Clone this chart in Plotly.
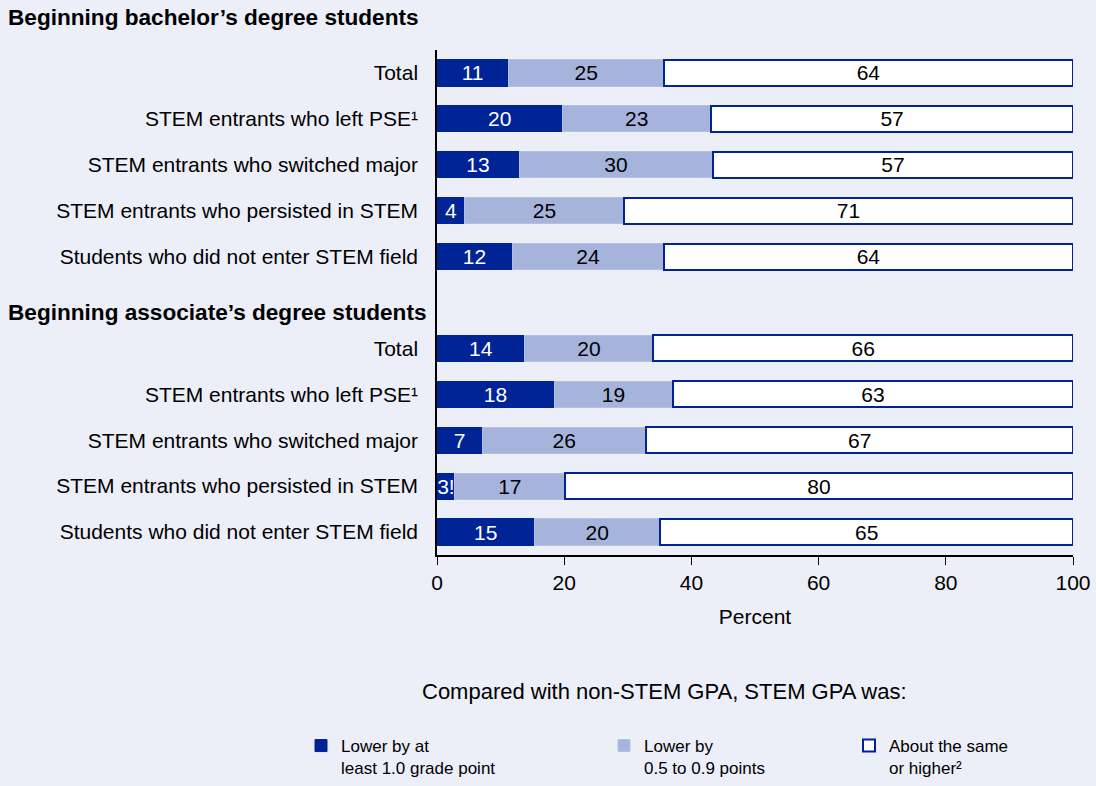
import plotly.graph_objects as go

# Row labels (top to bottom); blank row holds the associate header
row_labels = [
    "Total", "STEM entrants who left PSE¹", "STEM entrants who switched major",
    "STEM entrants who persisted in STEM", "Students who did not enter STEM field",
    "",
    "Total", "STEM entrants who left PSE¹", "STEM entrants who switched major",
    "STEM entrants who persisted in STEM", "Students who did not enter STEM field",
]
row_pos = [0, 1, 2, 3, 4, 6, 7, 8, 9, 10]
bar_labels = [l for l in row_labels if l != ""]

lower_1 = [11.2, 19.7, 12.9, 4.4, 11.8, 13.8, 18.4, 7.1, 2.8, 15.3]
lower_05 = [24.5, 23.4, 30.5, 25.0, 23.9, 20.2, 18.7, 25.8, 17.3, 19.8]
same_higher = [64.3, 56.9, 56.6, 70.6, 64.3, 66.0, 62.9, 67.1, 79.9, 64.9]

lower_1_txt = ["11", "20", "13", "4", "12", "14", "18", "7", "3!", "15"]
lower_05_txt = ["25", "23", "30", "25", "24", "20", "19", "26", "17", "20"]
same_higher_txt = ["64", "57", "57", "71", "64", "66", "63", "67", "80", "65"]

x_ticks = [0, 20, 40, 60, 80, 100]

DARK = "#002395"
LIGHT = "#A6B4DC"
BG = "#ECEEF8"
FONT = "Liberation Sans, Arial, sans-serif"

fig = go.Figure()
fig.add_trace(go.Bar(
    y=row_pos, x=lower_1, orientation="h", name="Lower by at<br>least 1.0 grade point",
    marker=dict(color=DARK, line=dict(color=DARK, width=1)),
    text=lower_1_txt, textposition="inside", insidetextanchor="middle",
    textfont=dict(color="white", size=21, family=FONT), constraintext="none",
    textangle=0, width=0.57, legend="legend", hoverinfo="skip",
))
fig.add_trace(go.Bar(
    y=row_pos, x=lower_05, orientation="h", name="Lower by<br>0.5 to 0.9 points",
    marker=dict(color=LIGHT, line=dict(color="#B3C0E4", width=1)),
    text=lower_05_txt, textposition="inside", insidetextanchor="middle",
    textfont=dict(color="black", size=21, family=FONT), constraintext="none",
    textangle=0, width=0.57, legend="legend2", hoverinfo="skip",
))
fig.add_trace(go.Bar(
    y=row_pos, x=same_higher, orientation="h", name="About the same<br>or higher²",
    marker=dict(color="white", line=dict(color=DARK, width=2)),
    text=same_higher_txt, textposition="inside", insidetextanchor="middle",
    textfont=dict(color="black", size=21, family=FONT), constraintext="none",
    textangle=0, width=0.57, legend="legend3", hoverinfo="skip",
))

W, H = 1096, 786
ml, mr, mt, mb = 437, 23, 50, 231
pw, ph = W - ml - mr, H - mt - mb


def px_to_paper_x(px):
    return (px - ml) / pw


def px_to_paper_y(py):
    return (H - mb - py) / ph


leg_common = dict(
    orientation="v", bgcolor="rgba(0,0,0,0)", borderwidth=0,
    font=dict(size=17, family=FONT, color="black"), valign="top",
    xanchor="left", yanchor="top", itemwidth=30, tracegroupgap=0,
)

fig.update_layout(
    width=W, height=H,
    margin=dict(l=ml, r=mr, t=mt, b=mb, autoexpand=False),
    paper_bgcolor=BG, plot_bgcolor=BG,
    barmode="stack", bargap=0.43,
    font=dict(family=FONT, size=21, color="black"),
    showlegend=True,
    legend=dict(**leg_common, x=px_to_paper_x(301), y=px_to_paper_y(728)),
    legend2=dict(**leg_common, x=px_to_paper_x(604), y=px_to_paper_y(728)),
    legend3=dict(**leg_common, x=px_to_paper_x(849), y=px_to_paper_y(728)),
    xaxis=dict(
        range=[0, 100], tickvals=x_ticks, ticks="outside", ticklen=8,
        tickcolor="black", showline=True, linecolor="black", linewidth=1.5,
        showgrid=False, zeroline=False, tickfont=dict(size=21), automargin=False,
        title=dict(text="Percent", font=dict(size=21), standoff=16),
    ),
    yaxis=dict(
        range=[10.5, -0.5], tickvals=row_pos, ticktext=bar_labels,
        showline=True, linecolor="black", linewidth=1.5, showgrid=False,
        zeroline=False, ticks="", ticklabelstandoff=13, tickfont=dict(size=21),
        automargin=False,
    ),
    annotations=[
        dict(text="<b>Beginning bachelor’s degree students</b>", xref="paper", yref="paper",
             x=px_to_paper_x(6), y=px_to_paper_y(18), xanchor="left", yanchor="middle",
             showarrow=False, font=dict(size=22.6)),
        dict(text="<b>Beginning associate’s degree students</b>", xref="paper", yref="y",
             x=px_to_paper_x(6), y=5.22, xanchor="left", yanchor="middle",
             showarrow=False, font=dict(size=22.6)),
        dict(text="Compared with non-STEM GPA, STEM GPA was:", xref="paper", yref="paper",
             x=px_to_paper_x(664), y=px_to_paper_y(691), xanchor="center", yanchor="middle",
             showarrow=False, font=dict(size=22)),
    ],
)

fig.write_html(
    "out.html",
    config={"displayModeBar": False},
    post_script="document.body.style.margin='0';document.body.style.overflow='hidden';",
)
